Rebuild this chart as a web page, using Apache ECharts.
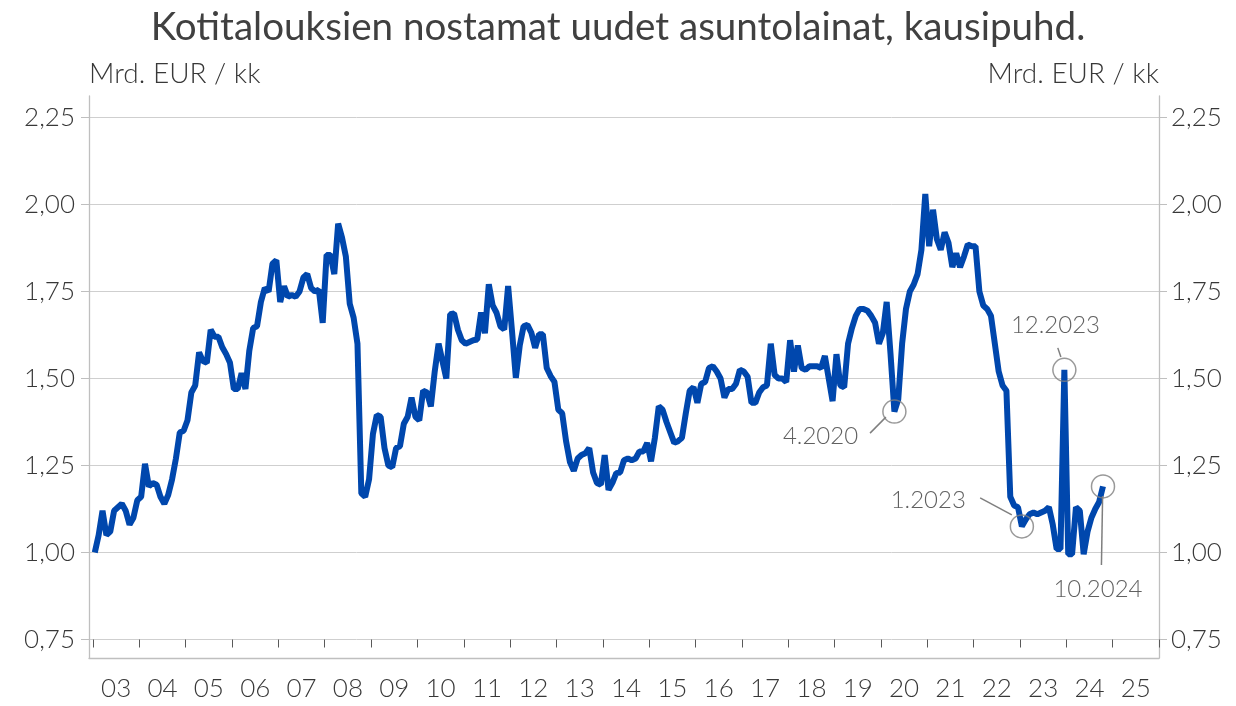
<!DOCTYPE html>
<html>
<head>
<meta charset="utf-8">
<script src="https://cdn.jsdelivr.net/npm/echarts@6/dist/echarts.min.js"></script>
<style>
  html, body { margin: 0; padding: 0; background: #fff; }
  #chart { width: 1236px; height: 706px; }
</style>
</head>
<body>
<div id="chart"></div>
<script>
// x-akselin vuodet (tammikuu 2003 -> tammikuu 2026)
const yearLabels = ['03', '04', '05', '06', '07', '08', '09', '10', '11', '12', '13', '14',
  '15', '16', '17', '18', '19', '20', '21', '22', '23', '24', '25'];

// y-akselin jaotus
const yTicks = { min: 0.75, max: 2.25, step: 0.25 };

// nostetut uudet asuntolainat, mrd. EUR / kk, kausipuhdistettu (1.2003 - 10.2024)
const loans = [
  1.00, 1.05, 1.12, 1.05, 1.06, 1.12, 1.13, 1.14, 1.12, 1.08, 1.10, 1.15,   // 2003
  1.16, 1.255, 1.19, 1.20, 1.195, 1.16, 1.14, 1.165, 1.21, 1.27, 1.345, 1.35, // 2004
  1.38, 1.46, 1.48, 1.575, 1.55, 1.545, 1.64, 1.62, 1.62, 1.59, 1.57, 1.545, // 2005
  1.47, 1.47, 1.515, 1.47, 1.58, 1.645, 1.65, 1.72, 1.76, 1.75, 1.83, 1.84,  // 2006
  1.72, 1.765, 1.735, 1.74, 1.735, 1.75, 1.79, 1.80, 1.76, 1.75, 1.755, 1.66, // 2007
  1.855, 1.855, 1.80, 1.945, 1.905, 1.85, 1.715, 1.675, 1.60, 1.17, 1.16, 1.21, // 2008
  1.34, 1.395, 1.39, 1.30, 1.25, 1.245, 1.30, 1.305, 1.37, 1.39, 1.445, 1.39, // 2009
  1.38, 1.465, 1.46, 1.42, 1.52, 1.60, 1.55, 1.50, 1.685, 1.687, 1.64, 1.61, // 2010
  1.60, 1.605, 1.61, 1.612, 1.69, 1.63, 1.771, 1.71, 1.689, 1.65, 1.641, 1.766, // 2011
  1.637, 1.502, 1.594, 1.65, 1.654, 1.632, 1.588, 1.627, 1.627, 1.53, 1.507, 1.49, // 2012
  1.41, 1.40, 1.32, 1.26, 1.235, 1.27, 1.28, 1.285, 1.30, 1.23, 1.20, 1.195, // 2013
  1.28, 1.18, 1.20, 1.228, 1.23, 1.265, 1.27, 1.265, 1.27, 1.29, 1.29, 1.315, // 2014
  1.262, 1.33, 1.42, 1.41, 1.375, 1.345, 1.315, 1.32, 1.33, 1.40, 1.465, 1.475, // 2015
  1.43, 1.485, 1.49, 1.53, 1.535, 1.52, 1.50, 1.445, 1.47, 1.47, 1.485, 1.525, // 2016
  1.52, 1.505, 1.43, 1.43, 1.46, 1.475, 1.48, 1.60, 1.51, 1.50, 1.50, 1.49,  // 2017
  1.61, 1.52, 1.595, 1.53, 1.525, 1.535, 1.535, 1.535, 1.53, 1.565, 1.50, 1.435, // 2018
  1.57, 1.48, 1.475, 1.60, 1.645, 1.68, 1.70, 1.70, 1.695, 1.68, 1.66, 1.60, // 2019
  1.63, 1.72, 1.57, 1.405, 1.44, 1.60, 1.70, 1.75, 1.77, 1.80, 1.87, 2.03,   // 2020
  1.88, 1.985, 1.90, 1.87, 1.92, 1.89, 1.82, 1.86, 1.82, 1.85, 1.885, 1.88,  // 2021
  1.88, 1.75, 1.71, 1.70, 1.68, 1.60, 1.52, 1.48, 1.465, 1.16, 1.135, 1.13,  // 2022
  1.075, 1.095, 1.11, 1.115, 1.11, 1.115, 1.12, 1.13, 1.08, 1.01, 1.01, 1.525, // 2023
  0.995, 0.995, 1.13, 1.12, 0.995, 1.06, 1.10, 1.125, 1.145, 1.19          // 2024
];

// merkityt havainnot: kuukausi-indeksi, selitteen paikka ja viiva (x = kk, y = mrd.)
const annotations = [
  { text: '4.2020',  month: 207, label: [198.1, 1.335], align: 'right',  leader: [[205.3, 1.389], [201.2, 1.343]] },
  { text: '1.2023',  month: 240, label: [226.0, 1.149], align: 'right',  leader: [[237.9, 1.108], [229.7, 1.157]] },
  { text: '12.2023', month: 251, label: [249.2, 1.652], align: 'center', leader: [[250.6, 1.562], [249.8, 1.588]] },
  { text: '10.2024', month: 261, label: [260.2, 0.895], align: 'center', leader: [[261.4, 1.162], [261.1, 0.964]] }
];

const FONT = 'Lato, "Open Sans", sans-serif';
const TEXT = '#383838';
const FRAME = '#bfbfbf';
const GRID = '#cfcfcf';
const LINE = '#0047ad';
const MARK = '#7f7f7f';
const LIGHT = 300;

const fmt = v => v.toFixed(2).replace('.', ',');

const chart = echarts.init(document.getElementById('chart'));

const lineData = loans.map((v, i) => [i + 0.5, v]);
const circleData = annotations.map(a => [a.month + 0.5, loans[a.month]]);
const labelData = annotations.map(a => ({
  value: a.label,
  label: {
    position: a.align === 'right' ? 'left' : 'inside',
    distance: 0,
    formatter: a.text
  }
}));

const valueY = (pos, extra) => Object.assign({
  type: 'value',
  gridIndex: 0,
  position: pos,
  min: yTicks.min,
  max: yTicks.max,
  interval: yTicks.step,
  axisLine: { show: false, onZero: false },
  axisTick: { show: true, length: 8, lineStyle: { color: FRAME, width: 1 } },
  splitLine: { show: pos === 'left', lineStyle: { color: GRID, width: 1 } }
}, extra);

const option = {
  animation: false,
  backgroundColor: '#fff',
  title: {
    text: 'Kotitalouksien nostamat uudet asuntolainat, kausipuhd.',
    left: 'center',
    top: 3,
    textStyle: { color: '#404040', fontFamily: FONT, fontSize: 38.6, fontWeight: 'normal' }
  },
  grid: [
    { left: 89, right: 77, top: 117.5, bottom: 66.5 },   // piirtoalue
    { left: 89, right: 77, top: 96, bottom: 48 },        // kehys
    { left: 93, right: 77, top: 117.5, bottom: 66.5 }    // vuosiakseli
  ],
  xAxis: [
    { type: 'value', gridIndex: 0, min: -1, max: 276, show: false },
    {
      type: 'value', gridIndex: 1, min: 0, max: 1,
      axisLine: { show: true, onZero: false, lineStyle: { color: FRAME, width: 1.3 } },
      axisTick: { show: false }, axisLabel: { show: false }, splitLine: { show: false }
    },
    {
      type: 'category', gridIndex: 2, data: yearLabels, position: 'bottom', offset: 18,
      axisLine: { show: false },
      axisTick: { show: true, length: 8, lineStyle: { color: '#595959', width: 1 } },
      axisLabel: { color: TEXT, fontFamily: FONT, fontSize: 26, fontWeight: LIGHT, margin: 18 },
      splitLine: { show: false }
    }
  ],
  yAxis: [
    valueY('left', {
      name: 'Mrd. EUR / kk', nameLocation: 'end', nameGap: 30,
      nameTextStyle: { color: TEXT, fontFamily: FONT, fontSize: 28, fontWeight: LIGHT, align: 'left' },
      axisLabel: { color: TEXT, fontFamily: FONT, fontSize: 26, fontWeight: LIGHT, margin: 14, formatter: fmt }
    }),
    valueY('right', {
      name: 'Mrd. EUR / kk', nameLocation: 'end', nameGap: 30,
      nameTextStyle: { color: TEXT, fontFamily: FONT, fontSize: 28, fontWeight: LIGHT, align: 'right' },
      axisLabel: { color: TEXT, fontFamily: FONT, fontSize: 26, fontWeight: LIGHT, margin: 12, formatter: fmt }
    }),
    {
      type: 'value', gridIndex: 1, position: 'left', min: 0, max: 1,
      axisLine: { show: true, onZero: false, lineStyle: { color: FRAME, width: 1.3 } },
      axisTick: { show: false }, axisLabel: { show: false }, splitLine: { show: false }
    },
    {
      type: 'value', gridIndex: 1, position: 'right', min: 0, max: 1,
      axisLine: { show: true, onZero: false, lineStyle: { color: FRAME, width: 1.3 } },
      axisTick: { show: false }, axisLabel: { show: false }, splitLine: { show: false }
    },
    { type: 'value', gridIndex: 2, show: false }
  ],
  series: [
    {
      name: 'Asuntolainat',
      type: 'line',
      xAxisIndex: 0,
      yAxisIndex: 0,
      data: lineData,
      showSymbol: false,
      lineStyle: { color: LINE, width: 6, join: 'bevel' },
      z: 3
    },
    {
      type: 'scatter',
      xAxisIndex: 0,
      yAxisIndex: 0,
      data: circleData,
      symbol: 'circle',
      symbolSize: 23,
      itemStyle: { color: 'rgba(0,0,0,0)', borderColor: MARK, borderWidth: 1.5 },
      silent: true,
      z: 4
    },
    {
      type: 'scatter',
      xAxisIndex: 0,
      yAxisIndex: 0,
      data: labelData,
      symbolSize: 0,
      label: { show: true, color: TEXT, fontFamily: FONT, fontSize: 24, fontWeight: LIGHT },
      silent: true,
      z: 4,
      markLine: {
        silent: true,
        symbol: ['none', 'none'],
        label: { show: false },
        lineStyle: { color: MARK, width: 1.5, type: 'solid' },
        data: annotations.map(a => [{ coord: a.leader[0] }, { coord: a.leader[1] }])
      }
    }
  ]
};

chart.setOption(option);
</script>
</body>
</html>
